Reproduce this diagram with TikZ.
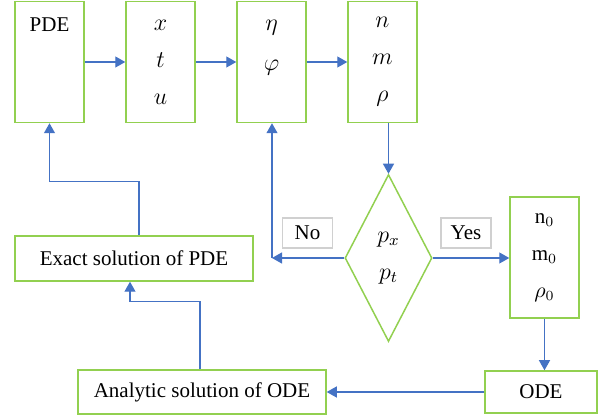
\documentclass[tikz,border=0pt]{standalone}
\usepackage{fontspec}
\setmainfont{Liberation Serif}
\usetikzlibrary{shapes.geometric,arrows.meta,positioning,calc}
\definecolor{boxgreen}{RGB}{146,208,80}
\definecolor{flowblue}{RGB}{68,114,196}
\definecolor{tagray}{RGB}{208,208,208}

\begin{document}
\begin{tikzpicture}[
    x=0.5pt, y=-0.5pt,
    every node/.style={font=\fontsize{10.5}{18.5}\selectfont},
    mathtxt/.style={font=\fontsize{12}{18.5}\selectfont},
    box/.style={draw=boxgreen, line width=0.75pt, minimum width=34.5pt, minimum height=60.5pt, inner sep=0pt},
    wide/.style={draw=boxgreen, line width=0.75pt, inner sep=0pt},
    tag/.style={draw=tagray, line width=0.6pt, minimum width=25pt, minimum height=15pt, inner sep=0pt},
    decide/.style={diamond, draw=boxgreen, line width=0.75pt, minimum width=43.5pt, minimum height=83.5pt, inner sep=0pt, align=center},
    arrow/.style={-{Triangle[length=5pt,width=5.5pt]}, draw=flowblue, line width=0.65pt}
]
\useasboundingbox (0,0) rectangle (601,417);

% Top row
\node[box] (pde) at (49.5,62) {};
\node (pdetxt) at (49.5,25) {PDE};
\node[box, mathtxt, align=center] (xtu) at (160.5,62) {$x$\\$t$\\$u$};
\node[box] (etaphi) at (271.5,62) {};
\node[mathtxt, align=center, font=\fontsize{12}{20}\selectfont] (etatxt) at (271.5,48) {$\eta$\\$\varphi$};
\node[box, mathtxt, align=center] (nmrho) at (382.5,62) {$n$\\$m$\\$\rho$};

% Decision
\node[decide, mathtxt] (check) at (388.5,258) {$p_x$\\$p_t$};
\node[box, align=center] (init) at (544.5,257.5) {n$_0$\\m$_0$\\$\rho_0$};
\node[tag] (no) at (307.5,233) {No};
\node[tag] (yes) at (466,233) {Yes};
\coordinate (noend) at (272,258);

% Solutions
\node[wide, minimum width=119pt, minimum height=22.5pt] (exact) at (134,258.5) {Exact solution of PDE};
\node[wide, minimum width=124pt, minimum height=22pt] (analytic) at (202,392) {Analytic solution of ODE};
\node[wide, minimum width=56pt, minimum height=21pt] (ode) at (541,392) {ODE};

% Arrows
\draw[arrow] (pde) -- (xtu);
\draw[arrow] (xtu) -- (etaphi);
\draw[arrow] (etaphi) -- (nmrho);
\draw[arrow] (nmrho.south -| check.north) -- (check.north);
\draw[arrow] (check.west) -- (noend);
\draw[arrow] (noend) -- (noend |- etaphi.south);
\draw[arrow] (check.east) -- (init.west |- check.east);
\draw[arrow] (init.south) -- (init.south |- ode.north);
\draw[arrow] (ode.west) -- (ode.west -| analytic.east);
\draw[arrow] ([xshift=-1pt]analytic.north) |- ++(0,-68) -| ([xshift=-2pt]exact.south);
\draw[arrow] ([xshift=2.5pt]exact.north) |- ++(0,-54) -| (pde.south);

\end{tikzpicture}
\end{document}
